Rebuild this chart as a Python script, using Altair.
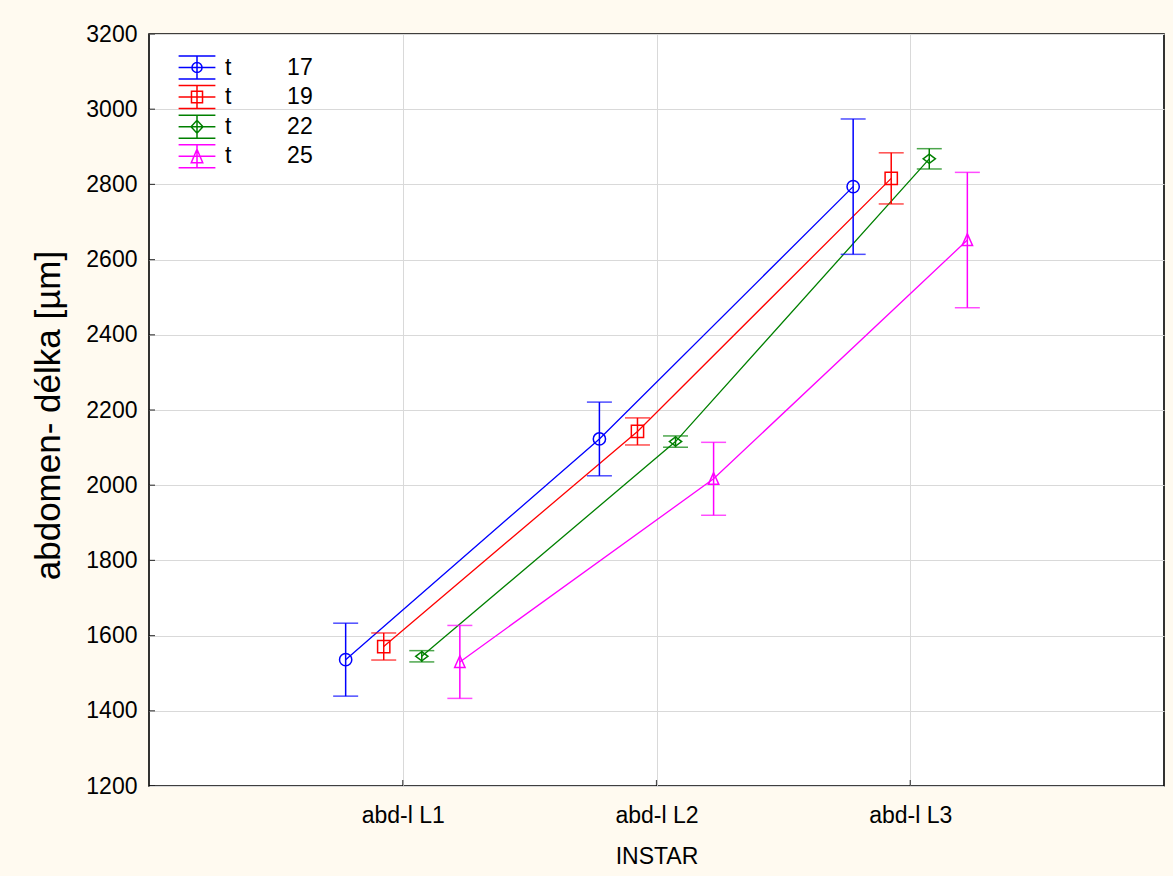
import altair as alt
import pandas as pd

# Categories and series
INSTARS = ["abd-l L1", "abd-l L2", "abd-l L3"]
TEMPS = ["17", "19", "22", "25"]

# Mean abdomen length [µm] and half-width of the error bar, per temperature
MEAN_17 = [1536, 2123, 2794]
ERR_17 = [97, 98, 180]
MEAN_19 = [1571, 2143, 2816]
ERR_19 = [36, 36, 68]
MEAN_22 = [1545, 2116, 2868]
ERR_22 = [15, 15, 27]
MEAN_25 = [1530, 2017, 2652]
ERR_25 = [97, 97, 180]

Y_TICKS = [1200, 1400, 1600, 1800, 2000, 2200, 2400, 2600, 2800, 3000, 3200]
X_TICKS = [1, 2, 3]

# Styling
COLORS = ["#0000ff", "#ff0000", "#008000", "#ff00ff"]
DODGE = [-0.225, -0.075, 0.075, 0.225]
FONT = "Liberation Sans"
BG = "#fffaf0"

MARKERS = [
    "circle",
    "square",
    "M-1,0L0,-0.75L1,0L0,0.75Z",
    "M0,-1L0.85,0.9L-0.85,0.9Z",
]
FRAME = "M-1.6,-1H1.6M-1.6,0H1.6M-1.6,1H1.6M0,-1V1"
LEGEND_SHAPES = [
    FRAME + "M0.44,0A0.44,0.44,0,1,1,-0.44,0A0.44,0.44,0,1,1,0.44,0",
    FRAME + "M-0.48,-0.5H0.48V0.5H-0.48Z",
    FRAME + "M-0.52,0L0,-0.56L0.52,0L0,0.56Z",
    FRAME + "M0,-0.62L0.5,0.55L-0.5,0.55Z",
]

means = [MEAN_17, MEAN_19, MEAN_22, MEAN_25]
errs = [ERR_17, ERR_19, ERR_22, ERR_25]

rows = []
for i, t in enumerate(TEMPS):
    for j, inst in enumerate(INSTARS):
        m, e = means[i][j], errs[i][j]
        rows.append({
            "t": t,
            "instar": inst,
            "xpos": X_TICKS[j] + DODGE[i],
            "mean": m,
            "lo": m - e,
            "hi": m + e,
        })
df = pd.DataFrame(rows)

label_map = "{" + ", ".join(f"'{k}': '{v}'" for k, v in zip(X_TICKS, INSTARS)) + "}"

x_enc = alt.X(
    "xpos:Q",
    scale=alt.Scale(domain=[0, 4], nice=False, zero=False),
    axis=alt.Axis(
        values=X_TICKS,
        labelExpr=f"{label_map}[datum.value]",
        title="INSTAR",
        titleY=77,
        titleBaseline="alphabetic",
        tickSize=0,
        labelPadding=36,
        labelBaseline="alphabetic",
        grid=True,
        domain=False,
    ),
)
y_scale = alt.Scale(domain=[1200, 3200], nice=False, zero=False)
y_enc = alt.Y(
    "mean:Q",
    scale=y_scale,
    axis=alt.Axis(
        values=Y_TICKS,
        format="d",
        title="abdomen- délka [µm]",
        titleFontSize=35,
        titleX=-101,
        titleY=381,
        titleBaseline="middle",
        tickSize=0,
        labelPadding=12,
        grid=True,
        domain=False,
    ),
)
# Series colours for the drawn marks (domain taken from the data, sorted)
series_scale = alt.Scale(range=COLORS)
stroke_enc = alt.Stroke("t:N", scale=series_scale, legend=None)
fill_enc = alt.Fill("t:N", scale=series_scale, legend=None)

base = alt.Chart(df)

lines = base.mark_line(strokeWidth=1.3).encode(
    x=x_enc, y=y_enc, stroke=stroke_enc, detail="t:N", order="xpos:Q"
)
bars = base.mark_rule(strokeWidth=1.5).encode(
    x="xpos:Q", y="lo:Q", y2="hi:Q", stroke=stroke_enc
)
caps_lo = base.mark_tick(orient="horizontal", size=25, thickness=1.5).encode(
    x="xpos:Q", y="lo:Q", fill=fill_enc
)
caps_hi = base.mark_tick(orient="horizontal", size=25, thickness=1.5).encode(
    x="xpos:Q", y="hi:Q", fill=fill_enc
)

markers = []
for t, shp in zip(TEMPS, MARKERS):
    markers.append(
        base.transform_filter(alt.datum.t == t)
        .mark_point(shape=shp, size=150, filled=False, strokeWidth=1.5, opacity=1)
        .encode(x="xpos:Q", y="mean:Q", stroke=stroke_enc)
    )

# Legend layer: its own marks are fully transparent, only the legend shows
legend_layer = base.mark_point(
    filled=False, strokeWidth=1.5, opacity=0
).encode(
    x="xpos:Q",
    y="mean:Q",
    color=alt.Color(
        "t:N",
        scale=alt.Scale(domain=TEMPS, range=COLORS),
        legend=alt.Legend(
            title=None,
            orient="none",
            legendX=35.5,
            legendY=21,
            padding=0,
            symbolSize=529,
            symbolStrokeWidth=1.5,
            symbolOpacity=1,
            labelFont=FONT,
            labelFontSize=23,
            labelColor="#000000",
            labelOffset=15.5,
            rowPadding=0.6,
            labelExpr="'t' + '\u00a0\u00a0\u00a0\u00a0\u00a0\u00a0\u00a0\u00a0\u2009' + datum.label",
        ),
    ),
    shape=alt.Shape("t:N", scale=alt.Scale(domain=TEMPS, range=LEGEND_SHAPES)),
)

# Inward tick marks along the left and bottom frame
ytick_df = pd.DataFrame({"v": Y_TICKS})
xtick_df = pd.DataFrame({"v": X_TICKS})
yticks = alt.Chart(ytick_df).mark_tick(
    orient="horizontal", size=12, thickness=1.2, color="#000000", clip=True
).encode(x=alt.datum(0), y=alt.Y("v:Q", scale=y_scale))
xticks = alt.Chart(xtick_df).mark_tick(
    orient="vertical", size=12, thickness=1.2, color="#000000", clip=True
).encode(x=alt.X("v:Q"), y=alt.datum(1200))

chart = (
    alt.layer(lines, bars, caps_lo, caps_hi, *markers, legend_layer, yticks, xticks)
    .properties(
        width=1015,
        height=752,
        autosize="none",
        padding={"left": 149, "top": 34, "right": 9, "bottom": 90},
        background=BG,
    )
    .configure_view(stroke="#000000", strokeWidth=1.6, fill="#ffffff")
    .configure_axis(
        labelFont=FONT,
        labelFontSize=23,
        labelColor="#000000",
        titleFont=FONT,
        titleFontSize=23,
        titleColor="#000000",
        titleFontWeight="normal",
        gridColor="#d9d9d9",
        gridWidth=1,
    )
)

chart.save("out.html", embed_options={"renderer": "svg", "actions": False})
